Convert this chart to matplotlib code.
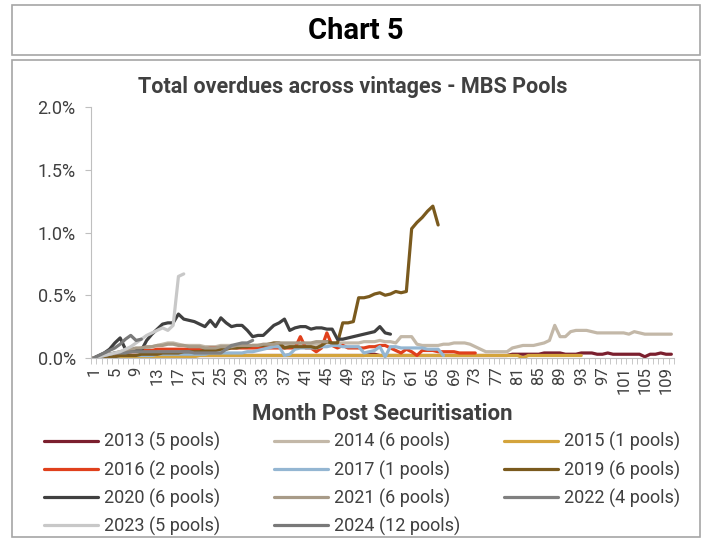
import matplotlib
matplotlib.use("Agg")
import matplotlib.pyplot as plt
from matplotlib.patches import Rectangle
from matplotlib.ticker import FuncFormatter, MultipleLocator, FixedLocator

plt.rcParams['font.family'] = ['Roboto', 'DejaVu Sans']

# ----- data (total overdues, % of pool balance, by month post securitisation) -----
v2013 = [0.00, 0.00, 0.01, 0.01, 0.01, 0.02, 0.02, 0.02, 0.02, 0.02,
         0.02, 0.02, 0.02, 0.02, 0.03, 0.03, 0.02, 0.02, 0.02, 0.02,
         0.02, 0.02, 0.02, 0.02, 0.02, 0.02, 0.02, 0.02, 0.02, 0.02,
         0.02, 0.02, 0.02, 0.02, 0.02, 0.02, 0.02, 0.02, 0.02, 0.02,
         0.02, 0.02, 0.02, 0.02, 0.02, 0.02, 0.02, 0.02, 0.02, 0.02,
         0.02, 0.02, 0.03, 0.03, 0.02, 0.02, 0.02, 0.02, 0.02, 0.02,
         0.02, 0.02, 0.02, 0.02, 0.02, 0.02, 0.02, 0.02, 0.02, 0.02,
         0.02, 0.02, 0.02, 0.02, 0.02, 0.02, 0.02, 0.02, 0.02, 0.03,
         0.03, 0.03, 0.03, 0.03, 0.03, 0.04, 0.04, 0.04, 0.04, 0.03,
         0.03, 0.03, 0.04, 0.04, 0.04, 0.03, 0.03, 0.04, 0.03, 0.03,
         0.03, 0.03, 0.03, 0.03, 0.01, 0.03, 0.03, 0.04, 0.03, 0.03]
v2014 = [0.00, 0.01, 0.02, 0.03, 0.04, 0.05, 0.06, 0.07, 0.07, 0.08,
         0.08, 0.09, 0.10, 0.11, 0.12, 0.12, 0.11, 0.10, 0.10, 0.10,
         0.10, 0.09, 0.09, 0.09, 0.10, 0.10, 0.10, 0.09, 0.09, 0.09,
         0.09, 0.10, 0.10, 0.10, 0.10, 0.10, 0.10, 0.11, 0.11, 0.11,
         0.11, 0.11, 0.11, 0.12, 0.12, 0.12, 0.12, 0.12, 0.12, 0.12,
         0.12, 0.13, 0.13, 0.13, 0.14, 0.13, 0.13, 0.12, 0.17, 0.17,
         0.17, 0.11, 0.10, 0.10, 0.10, 0.10, 0.11, 0.11, 0.12, 0.12,
         0.12, 0.11, 0.09, 0.07, 0.05, 0.05, 0.05, 0.05, 0.05, 0.08,
         0.09, 0.10, 0.10, 0.10, 0.11, 0.12, 0.14, 0.26, 0.17, 0.17,
         0.21, 0.22, 0.22, 0.22, 0.21, 0.20, 0.20, 0.20, 0.20, 0.20,
         0.20, 0.19, 0.21, 0.20, 0.19, 0.19, 0.19, 0.19, 0.19, 0.19]
v2015 = [0.00, 0.00, 0.00, 0.01, 0.01, 0.01, 0.01, 0.01, 0.01, 0.01,
         0.01, 0.01, 0.01, 0.01, 0.01, 0.01, 0.01, 0.01, 0.01, 0.01,
         0.02, 0.02, 0.02, 0.02, 0.02, 0.02, 0.02, 0.02, 0.02, 0.02,
         0.02, 0.02, 0.02, 0.02, 0.02, 0.02, 0.02, 0.02, 0.02, 0.02,
         0.02, 0.02, 0.02, 0.02, 0.02, 0.02, 0.02, 0.02, 0.02, 0.02,
         0.02, 0.02, 0.02, 0.02, 0.02, 0.02, 0.02, 0.02, 0.02, 0.02,
         0.02, 0.02, 0.02, 0.02, 0.02, 0.02, 0.02, 0.02, 0.02, 0.02,
         0.02, 0.02, 0.02, 0.02, 0.02, 0.02, 0.02, 0.02, 0.02, 0.02,
         0.02, 0.00, 0.02, 0.02, 0.02, 0.02, 0.02, 0.02, 0.02, 0.02,
         0.02, 0.02, 0.02]
v2016 = [0.00, 0.01, 0.02, 0.03, 0.03, 0.04, 0.04, 0.05, 0.05, 0.06,
         0.06, 0.06, 0.07, 0.07, 0.07, 0.07, 0.07, 0.07, 0.07, 0.07,
         0.07, 0.07, 0.08, 0.08, 0.08, 0.08, 0.08, 0.08, 0.08, 0.08,
         0.08, 0.08, 0.08, 0.08, 0.08, 0.08, 0.08, 0.08, 0.08, 0.17,
         0.08, 0.08, 0.05, 0.08, 0.20, 0.10, 0.08, 0.10, 0.08, 0.08,
         0.08, 0.08, 0.09, 0.09, 0.10, 0.10, 0.08, 0.06, 0.04, 0.07,
         0.05, 0.02, 0.06, 0.06, 0.06, 0.05, 0.05, 0.05, 0.05, 0.04,
         0.04, 0.04, 0.04]
v2017 = [0.00, 0.00, 0.01, 0.01, 0.01, 0.02, 0.02, 0.02, 0.02, 0.02,
         0.02, 0.02, 0.03, 0.03, 0.03, 0.03, 0.03, 0.03, 0.03, 0.03,
         0.03, 0.03, 0.04, 0.04, 0.04, 0.04, 0.04, 0.04, 0.04, 0.05,
         0.05, 0.06, 0.07, 0.08, 0.09, 0.09, 0.02, 0.03, 0.07, 0.08,
         0.08, 0.08, 0.08, 0.09, 0.09, 0.10, 0.10, 0.09, 0.09, 0.09,
         0.09, 0.04, 0.05, 0.06, 0.09, 0.01, 0.09, 0.09, 0.08, 0.08,
         0.08, 0.08, 0.08, 0.07, 0.07, 0.07, 0.02]
v2019 = [0.00, 0.00, 0.01, 0.01, 0.01, 0.02, 0.02, 0.02, 0.02, 0.03,
         0.03, 0.03, 0.03, 0.04, 0.04, 0.04, 0.04, 0.05, 0.05, 0.05,
         0.05, 0.06, 0.06, 0.06, 0.07, 0.07, 0.08, 0.08, 0.09, 0.09,
         0.10, 0.10, 0.10, 0.11, 0.12, 0.12, 0.08, 0.09, 0.09, 0.09,
         0.09, 0.09, 0.08, 0.10, 0.13, 0.12, 0.12, 0.28, 0.28, 0.29,
         0.48, 0.48, 0.49, 0.51, 0.52, 0.50, 0.51, 0.53, 0.52, 0.53,
         1.03, 1.08, 1.12, 1.17, 1.21, 1.06]
v2020 = [0.00, 0.02, 0.04, 0.07, 0.12, 0.16, 0.07, 0.05, 0.06, 0.06,
         0.14, 0.19, 0.23, 0.27, 0.28, 0.28, 0.35, 0.31, 0.30, 0.29,
         0.27, 0.25, 0.30, 0.25, 0.32, 0.28, 0.25, 0.26, 0.26, 0.22,
         0.17, 0.18, 0.18, 0.22, 0.26, 0.28, 0.31, 0.22, 0.24, 0.25,
         0.25, 0.23, 0.24, 0.24, 0.23, 0.23, 0.15, 0.15, 0.16, 0.17,
         0.18, 0.19, 0.20, 0.21, 0.25, 0.20, 0.19]
v2021 = [0.00, 0.01, 0.02, 0.03, 0.04, 0.05, 0.06, 0.07, 0.08, 0.08,
         0.09, 0.09, 0.10, 0.10, 0.11, 0.11, 0.10, 0.10, 0.09, 0.09,
         0.09, 0.08, 0.08, 0.08, 0.09, 0.09, 0.09, 0.10, 0.10, 0.10,
         0.10, 0.10, 0.11, 0.11, 0.11, 0.12, 0.12, 0.12, 0.12, 0.12,
         0.12, 0.12, 0.13, 0.13, 0.13]
v2022 = [0.00, 0.01, 0.02, 0.03, 0.04, 0.04, 0.04, 0.05, 0.05, 0.05,
         0.05, 0.05, 0.05, 0.05, 0.05, 0.05, 0.05, 0.05, 0.05, 0.04,
         0.04, 0.04, 0.04, 0.04, 0.04, 0.07, 0.10, 0.11, 0.12, 0.12,
         0.14]
v2023 = [0.00, 0.01, 0.02, 0.03, 0.04, 0.05, 0.07, 0.09, 0.12, 0.15,
         0.18, 0.20, 0.22, 0.24, 0.22, 0.26, 0.65, 0.67]
v2024 = [0.00, 0.02, 0.04, 0.06, 0.08, 0.11, 0.15, 0.18, 0.14, 0.15]

labels = ['2013 (5 pools)', '2014 (6 pools)', '2015 (1 pools)', '2016 (2 pools)',
          '2017 (1 pools)', '2019 (6 pools)', '2020 (6 pools)', '2021 (6 pools)',
          '2022 (4 pools)', '2023 (5 pools)', '2024 (12 pools)']
series = [v2013, v2014, v2015, v2016, v2017, v2019, v2020, v2021, v2022, v2023, v2024]
colors = ['#7b1f2e', '#c3b8a8', '#d4a43c', '#e0401c', '#94b6d2', '#7a5a1e',
          '#404040', '#a89b88', '#808080', '#c8c8c8', '#797979']
n_months = 110

# ----- plotting -----
fig = plt.figure(figsize=(7.11, 5.4), dpi=100)

# boxes around header and chart
fig.patches.append(Rectangle((12 / 711, 1 - 55 / 540), 688 / 711, 50 / 540,
                             transform=fig.transFigure, fill=False,
                             edgecolor='#a6a6a6', lw=1.2))
fig.patches.append(Rectangle((12 / 711, 1 - 537 / 540), 688 / 711, 477 / 540,
                             transform=fig.transFigure, fill=False,
                             edgecolor='#a6a6a6', lw=1.2))
fig.text(356 / 711, 1 - 31 / 540, 'Chart 5', ha='center', va='center',
         fontsize=21, fontweight='bold', color='black')
fig.text(353 / 711, 1 - 87 / 540, 'Total overdues across vintages - MBS Pools',
         ha='center', va='center', fontsize=15.5, fontweight='bold', color='#404040')

ax = fig.add_axes([91 / 711, 1 - 358 / 540, 583 / 711, 251 / 540])
handles = []
for vals, lab, col in zip(series, labels, colors):
    months = list(range(1, len(vals) + 1))
    h, = ax.plot(months, vals, color=col, lw=2.3, label=lab, solid_capstyle='round')
    handles.append(h)

ax.set_xlim(0.5, n_months + 0.5)
ax.set_ylim(0, 2.0)
ax.yaxis.set_major_locator(MultipleLocator(0.5))
ax.yaxis.set_major_formatter(FuncFormatter(lambda v, p: f'{v:.1f}%'))
ax.xaxis.set_major_locator(FixedLocator(list(range(1, n_months + 1, 4))))
ax.xaxis.set_minor_locator(FixedLocator([m + 0.5 for m in range(0, n_months + 1)]))
ax.tick_params(axis='x', which='major', length=0, labelrotation=90,
               labelsize=12, labelcolor='#404040', pad=6)
ax.tick_params(axis='x', which='minor', length=4, color='#bfbfbf', direction='out')
ax.tick_params(axis='y', length=4, color='#bfbfbf', labelsize=13, labelcolor='#404040', pad=7)
for s in ['top', 'right']:
    ax.spines[s].set_visible(False)
for s in ['left', 'bottom']:
    ax.spines[s].set_color('#bfbfbf')
ax.set_xlabel('Month Post Securitisation', fontsize=16, fontweight='bold',
              color='#404040', labelpad=6)

# legend: three evenly spaced columns, filled row by row like the original
for col in range(3):
    idx = list(range(col, len(labels), 3))
    fig.legend([handles[i] for i in idx], [labels[i] for i in idx],
               loc='upper left', bbox_to_anchor=((28 + 230 * col) / 711, 1 - 416 / 540),
               frameon=False, fontsize=13, handlelength=3.0, handletextpad=0.3,
               labelspacing=0.5, labelcolor='#404040')

fig.savefig('out.png', dpi=100)
